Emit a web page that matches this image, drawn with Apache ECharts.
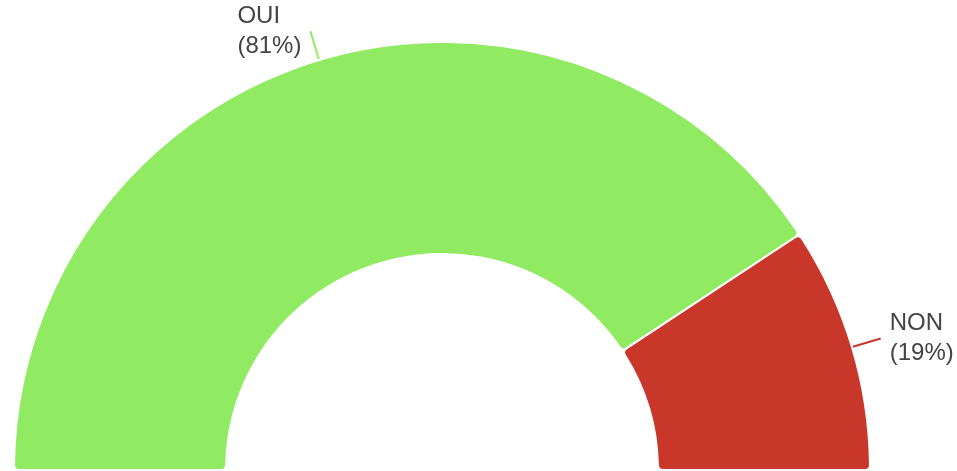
<!DOCTYPE html>
<html>
<head>
<meta charset="utf-8">
<style>
  html, body { margin: 0; padding: 0; background: #fff; }
  #chart { width: 957px; height: 471px; }
</style>
<script src="https://cdn.jsdelivr.net/npm/echarts@6/dist/echarts.min.js"></script>
</head>
<body>
<div id="chart"></div>
<script>
// données (parts, affichées arrondies)
var categories = ['OUI', 'NON'];
var values = [81.45, 18.55];
var colors = ['#90eb63', '#c9362a'];

var chart = echarts.init(document.getElementById('chart'));

var option = {
  animation: false,
  series: [{
    type: 'pie',
    center: [442, 470],
    radius: [216, 428],
    startAngle: 180,
    endAngle: 0,
    clockwise: true,
    percentPrecision: 0,
    itemStyle: {
      borderColor: '#fff',
      borderWidth: 2,
      borderRadius: 5
    },
    label: {
      show: true,
      formatter: function (p) {
        return '{a|' + p.name + '}\n{a|(' + p.percent + '%)}';
      },
      color: '#444',
      overflow: 'none',
      distanceToLabelLine: 9,
      rich: {
        a: {
          align: 'left',
          color: '#444',
          fontFamily: 'Liberation Sans, Arial, sans-serif',
          fontSize: 24,
          lineHeight: 30
        }
      }
    },
    labelLine: {
      show: true,
      length: 30,
      length2: 0,
      lineStyle: { width: 2 }
    },
    emphasis: { disabled: true },
    data: categories.map(function (c, i) {
      return { name: c, value: values[i], itemStyle: { color: colors[i] } };
    })
  }]
};

chart.setOption(option);
</script>
</body>
</html>
